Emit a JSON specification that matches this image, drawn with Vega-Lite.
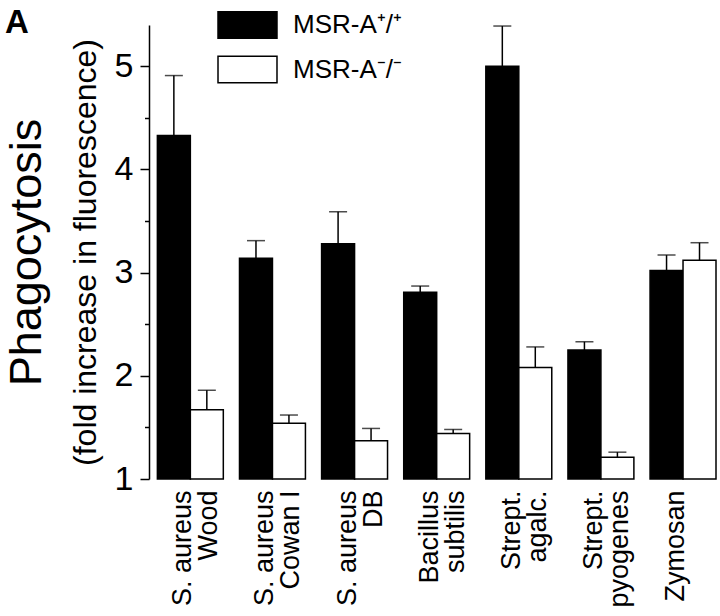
{
  "$schema": "https://vega.github.io/schema/vega-lite/v6.json",
  "width": 567,
  "height": 454,
  "autosize": {"type": "none"},
  "padding": {"left": 149, "top": 25, "right": 4, "bottom": 137},
  "title": {"text": "A", "anchor": "start", "frame": "group", "fontSize": 33, "fontWeight": "bold", "font": "Liberation Sans", "color": "black", "dx": -144, "dy": 56, "offset": 0, "baseline": "alphabetic"},
  "config": {
    "view": {"stroke": null},
    "font": "Liberation Sans",
    "axis": {"labelColor": "black", "titleColor": "black", "domainColor": "black", "tickColor": "black", "grid": false, "labelFont": "Liberation Sans", "titleFont": "Liberation Sans"}
  },
  "data": {
    "values": [
      {"organism": "S. aureus|Wood", "genotype": "MSR-A⁺/⁺", "value": 4.33, "upper": 4.91},
      {"organism": "S. aureus|Wood", "genotype": "MSR-A⁻/⁻", "value": 1.67, "upper": 1.86},
      {"organism": "S. aureus|Cowan I", "genotype": "MSR-A⁺/⁺", "value": 3.14, "upper": 3.31},
      {"organism": "S. aureus|Cowan I", "genotype": "MSR-A⁻/⁻", "value": 1.54, "upper": 1.62},
      {"organism": "S. aureus|DB", "genotype": "MSR-A⁺/⁺", "value": 3.28, "upper": 3.59},
      {"organism": "S. aureus|DB", "genotype": "MSR-A⁻/⁻", "value": 1.37, "upper": 1.49},
      {"organism": "Bacillus|subtilis", "genotype": "MSR-A⁺/⁺", "value": 2.81, "upper": 2.87},
      {"organism": "Bacillus|subtilis", "genotype": "MSR-A⁻/⁻", "value": 1.44, "upper": 1.48},
      {"organism": "Strept.|agalc.", "genotype": "MSR-A⁺/⁺", "value": 5.0, "upper": 5.39},
      {"organism": "Strept.|agalc.", "genotype": "MSR-A⁻/⁻", "value": 2.08, "upper": 2.28},
      {"organism": "Strept.|pyogenes", "genotype": "MSR-A⁺/⁺", "value": 2.25, "upper": 2.33},
      {"organism": "Strept.|pyogenes", "genotype": "MSR-A⁻/⁻", "value": 1.21, "upper": 1.26},
      {"organism": "Zymosan", "genotype": "MSR-A⁺/⁺", "value": 3.02, "upper": 3.17},
      {"organism": "Zymosan", "genotype": "MSR-A⁻/⁻", "value": 3.12, "upper": 3.29}
    ]
  },
  "encoding": {
    "x": {
      "field": "organism", "type": "nominal", "sort": null,
      "scale": {"paddingInner": 0.197, "paddingOuter": 0.051, "align": 1},
      "axis": {"title": null, "labelAngle": -90, "labelExpr": "split(datum.label, '|')", "labelFontSize": 27, "labelLineHeight": 26, "labelPadding": 11, "labelOffset": -7, "domain": false, "ticks": false, "tickSize": 0, "labelLimit": 0}
    },
    "xOffset": {"field": "genotype", "type": "nominal", "sort": null, "scale": {"paddingInner": 0, "paddingOuter": 0}}
  },
  "layer": [
    {
      "mark": {"type": "bar", "stroke": "black", "strokeWidth": 1.5},
      "encoding": {
        "y": {
          "field": "value", "type": "quantitative",
          "scale": {"domain": [1, 5.4], "nice": false, "zero": false},
          "axis": {"orient": "left", "values": [1, 2, 3, 4, 5], "title": "(fold increase in fluorescence)", "titleFontSize": 32, "titleFontWeight": "normal", "titlePadding": 12, "labelFontSize": 34, "tickSize": 9, "tickWidth": 1.5, "domainWidth": 1.5, "labelPadding": 7}
        },
        "y2": {"datum": 1},
        "fill": {
          "field": "genotype", "type": "nominal", "sort": null,
          "scale": {"domain": ["MSR-A⁺/⁺", "MSR-A⁻/⁻"], "range": ["black", "white"]},
          "legend": {"orient": "none", "legendX": 83, "legendY": -15.5, "title": null, "symbolType": "M-2,-0.9H2V0.9H-2Z", "symbolSize": 870, "symbolStrokeColor": "black", "symbolStrokeWidth": 1.5, "labelFontSize": 26, "labelOffset": 30, "rowPadding": 11.5, "labelColor": "black", "padding": 0, "labelFont": "Liberation Sans", "labelLimit": 0}
        }
      }
    },
    {
      "mark": {"type": "rule", "stroke": "black", "strokeWidth": 1.5},
      "encoding": {
        "y": {
          "field": "value", "type": "quantitative",
          "axis": {"orient": "left", "values": [1.5, 2.5, 3.5, 4.5], "labels": false, "domain": false, "tickSize": 4.5, "tickWidth": 1.5, "title": "Phagocytosis", "titleFontSize": 45, "titleFontWeight": "normal", "titlePadding": 94}
        },
        "y2": {"field": "upper"}
      }
    },
    {
      "mark": {"type": "tick", "orient": "horizontal", "size": 18, "thickness": 1.5, "color": "black"},
      "encoding": {
        "y": {"field": "upper", "type": "quantitative", "axis": null}
      }
    }
  ],
  "resolve": {"axis": {"y": "independent"}}
}
